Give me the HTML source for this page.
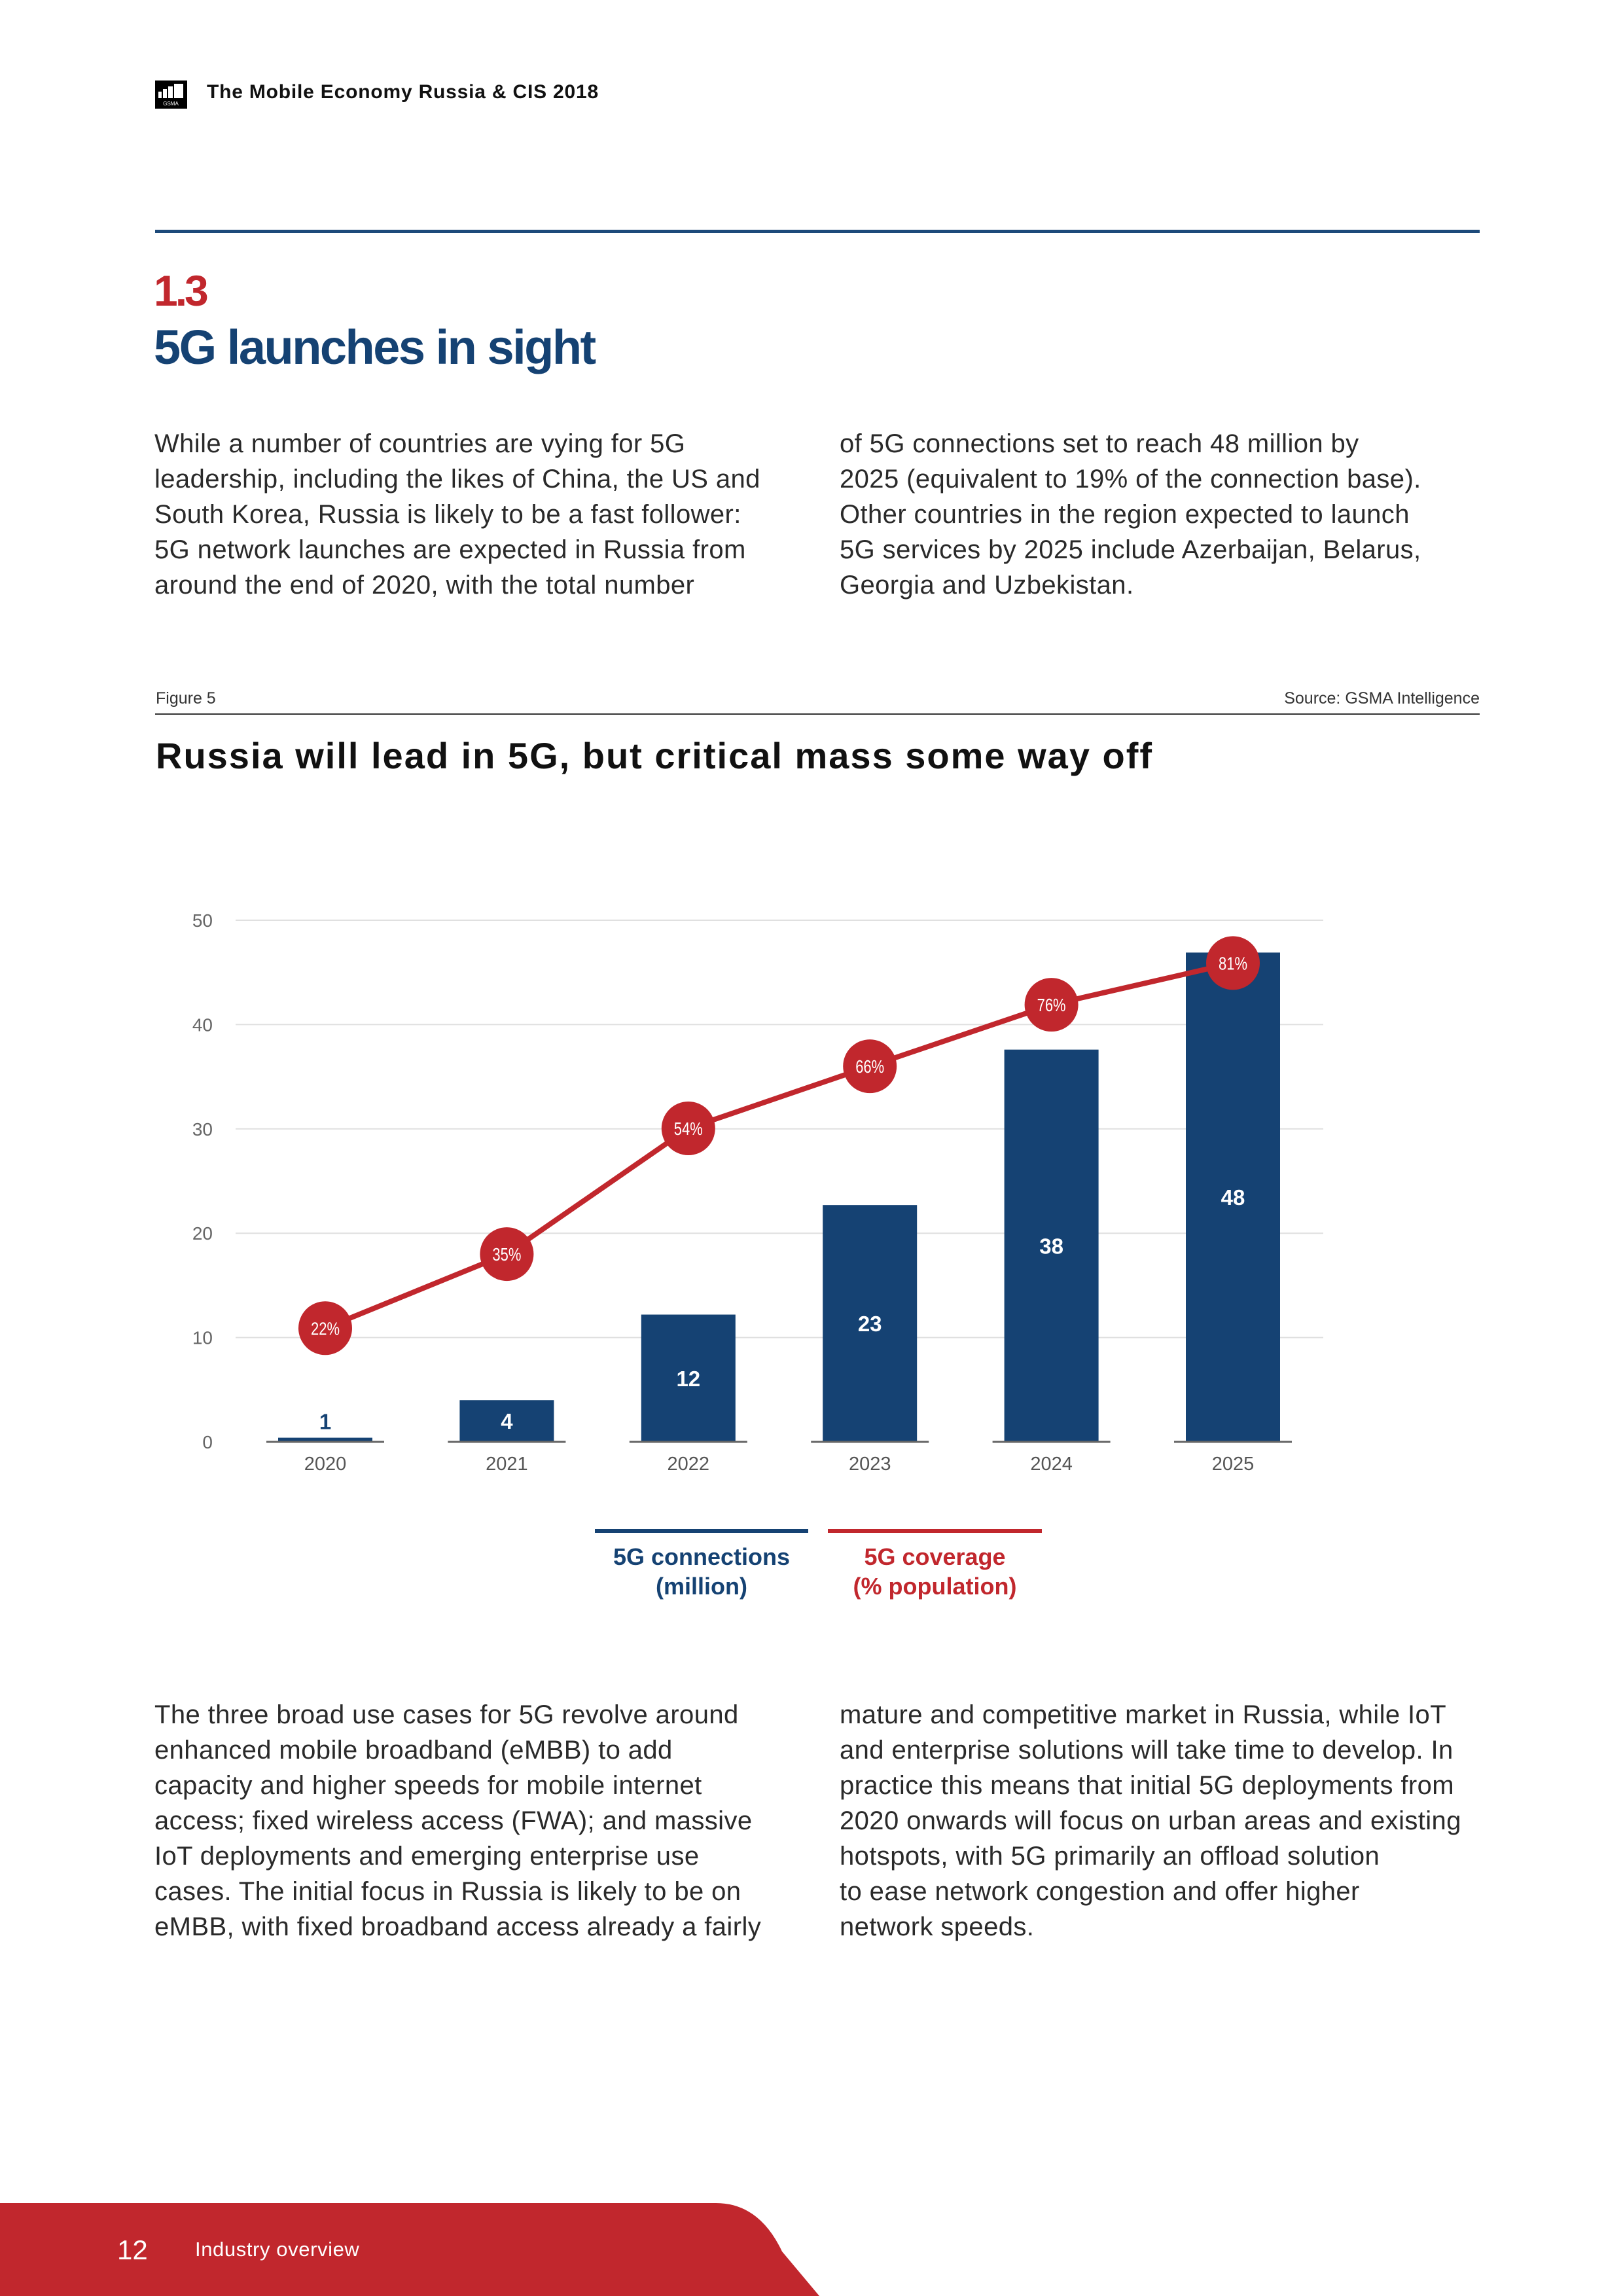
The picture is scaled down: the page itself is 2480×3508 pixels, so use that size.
<!DOCTYPE html>
<html><head><meta charset="utf-8">
<style>
*{margin:0;padding:0;box-sizing:border-box}
body{width:2480px;height:3508px;position:relative;background:#fff;font-family:"Liberation Sans",sans-serif;overflow:hidden;color:#222}
.abs{position:absolute;white-space:nowrap}
.para div{font-size:40px;line-height:54px;color:#2a2a2a;letter-spacing:0.4px}
</style></head><body>
<div class="abs" style="left:237px;top:123px;width:49px;height:43px;background:#000">
<svg width="49" height="43"><rect x="5" y="17" width="5" height="10" fill="#fff"/><rect x="12" y="13" width="6" height="14" fill="#fff"/><rect x="20" y="9" width="7" height="18" fill="#fff"/><rect x="29" y="5" width="14" height="22" fill="#fff"/><text x="24" y="38" font-size="8" fill="#fff" text-anchor="middle" font-family="Liberation Sans">GSMA</text></svg></div>
<div class="abs" style="left:316px;top:124px;font-size:30px;font-weight:bold;color:#111;letter-spacing:0.8px">The Mobile Economy Russia &amp; CIS 2018</div>
<div class="abs" style="left:237px;top:351px;width:2024px;height:5px;background:#1d4a7a"></div>
<div class="abs" style="left:235px;top:406px;font-size:66px;font-weight:bold;color:#c1272d;letter-spacing:-4px">1.3</div>
<div class="abs" style="left:235px;top:488px;font-size:74px;font-weight:bold;color:#154273;letter-spacing:-2.5px">5G launches in sight</div>
<div class="abs para" style="left:236px;top:651px">
<div>While a number of countries are vying for 5G</div><div>leadership, including the likes of China, the US and</div><div>South Korea, Russia is likely to be a fast follower:</div><div>5G network launches are expected in Russia from</div><div>around the end of 2020, with the total number</div></div>
<div class="abs para" style="left:1283px;top:651px">
<div>of 5G connections set to reach 48 million by</div><div>2025 (equivalent to 19% of the connection base).</div><div>Other countries in the region expected to launch</div><div>5G services by 2025 include Azerbaijan, Belarus,</div><div>Georgia and Uzbekistan.</div></div>
<div class="abs" style="left:238px;top:1053px;font-size:25px;color:#333">Figure 5</div>
<div class="abs" style="right:219px;top:1053px;font-size:25px;color:#333">Source: GSMA Intelligence</div>
<div class="abs" style="left:237px;top:1090px;width:2024px;height:2px;background:#333"></div>
<div class="abs" style="left:238px;top:1122px;font-size:56px;font-weight:bold;color:#111;letter-spacing:2px">Russia will lead in 5G, but critical mass some way off</div>

<svg id="chart" class="abs" style="left:0;top:0" width="2480" height="2300"></svg>

<div class="abs" style="left:909px;top:2336px;width:326px;border-top:6px solid #154273;text-align:center;color:#154273;font-size:36px;font-weight:bold;line-height:45px;padding-top:14px">5G connections<br>(million)</div>
<div class="abs" style="left:1265px;top:2336px;width:327px;border-top:6px solid #c1272d;text-align:center;color:#c1272d;font-size:36px;font-weight:bold;line-height:45px;padding-top:14px">5G coverage<br>(% population)</div>

<div class="abs para" style="left:236px;top:2593px">
<div>The three broad use cases for 5G revolve around</div><div>enhanced mobile broadband (eMBB) to add</div><div>capacity and higher speeds for mobile internet</div><div>access; fixed wireless access (FWA); and massive</div><div>IoT deployments and emerging enterprise use</div><div>cases. The initial focus in Russia is likely to be on</div><div>eMBB, with fixed broadband access already a fairly</div></div>
<div class="abs para" style="left:1283px;top:2593px">
<div>mature and competitive market in Russia, while IoT</div><div>and enterprise solutions will take time to develop. In</div><div>practice this means that initial 5G deployments from</div><div>2020 onwards will focus on urban areas and existing</div><div>hotspots, with 5G primarily an offload solution</div><div>to ease network congestion and offer higher</div><div>network speeds.</div></div>

<svg class="abs" style="left:0;top:3360px" width="1300" height="148"><path d="M0 6 L1094 6 Q1160 6 1195 80 L1252 148 L0 148 Z" fill="#c1272d"/></svg>
<div class="abs" style="left:179px;top:3414px;font-size:42px;color:#fff">12</div>
<div class="abs" style="left:298px;top:3419px;font-size:31px;color:#fff;letter-spacing:0.6px">Industry overview</div>

<script>
const categories=["2020","2021","2022","2023","2024","2025"];
const connections=[0.4,4,12.2,22.7,37.6,46.9];
const connectionLabels=["1","4","12","23","38","48"];
const coverage=[10.9,18,30.05,36,41.9,45.9];
const coverageLabels=["22%","35%","54%","66%","76%","81%"];
const yTicks=[0,10,20,30,40,50];
const NS="http://www.w3.org/2000/svg";
const svg=document.getElementById('chart');
const y0=2203,y50=1406,xL=360,xR=2022;
const y=v=>y0-(y0-y50)*v/50;
const x=i=>497+i*277.4;
function mk(t,a,p){const e=document.createElementNS(NS,t);for(const k in a)e.setAttribute(k,a[k]);(p||svg).appendChild(e);return e;}
yTicks.forEach(t=>{
 if(t>0){const g=mk('line',{x1:xL,x2:xR,y1:y(t),y2:y(t),stroke:'#e0e0e0','stroke-width':2});
 
 }
 const l=mk('text',{x:325,y:y(t)+10,'text-anchor':'end','font-size':28,fill:'#666','font-family':'Liberation Sans'});l.textContent=t;
 
 
});
categories.forEach((c,i)=>{
 const b=mk('rect',{x:x(i)-72,y:y(connections[i]),width:144,height:y0-y(connections[i]),fill:'#154273'});
 
 
 const base=mk('line',{x1:x(i)-90,x2:x(i)+90,y1:y0,y2:y0,stroke:'#666','stroke-width':3});
 
 
 const xl=mk('text',{x:x(i),y:y0+43,'text-anchor':'middle','font-size':29,fill:'#555','font-family':'Liberation Sans'});xl.textContent=c;
 
 
 const small=connections[i]<2;
 const ly=small?y(connections[i])-25:(y(connections[i])+y0)/2;
 const vl=mk('text',{x:x(i),y:ly+12,'text-anchor':'middle','font-size':33,'font-weight':'bold',fill:small?'#154273':'#fff','font-family':'Liberation Sans'});vl.textContent=connectionLabels[i];
 
 
});
const pl=mk('polyline',{points:coverage.map((v,i)=>x(i)+','+y(v)).join(' '),fill:'none',stroke:'#c1272d','stroke-width':8});


coverage.forEach((v,i)=>{
 const c=mk('circle',{cx:x(i),cy:y(v),r:41,fill:'#c1272d'});
 
 
 const t=mk('text',{x:x(i),y:y(v)+10,'text-anchor':'middle','font-size':28,fill:'#fff','font-family':'Liberation Sans',textLength:44,lengthAdjust:'spacingAndGlyphs'});t.textContent=coverageLabels[i];
 
 
});
</script>
</body></html>
